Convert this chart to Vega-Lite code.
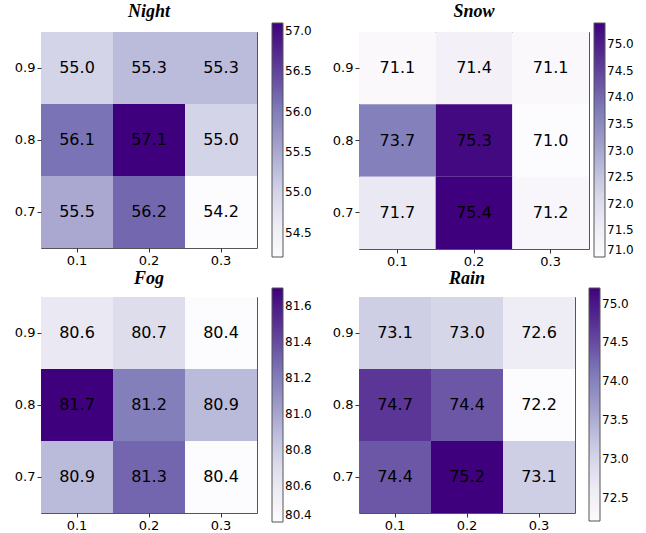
{
  "$schema": "https://vega.github.io/schema/vega-lite/v6.json",
  "padding": {"left": 13, "top": 2, "right": 2, "bottom": 2},
  "background": "white",
  "config": {
    "view": {"stroke": "#555", "strokeWidth": 1},
    "axis": {"domain": false, "grid": false, "labelFont": "DejaVu Sans", "labelFontSize": 13, "labelColor": "#000", "tickColor": "#333", "tickSize": 4, "labelPadding": 2, "title": null},
    "title": {"font": "Liberation Serif", "fontSize": 18, "fontWeight": "bold", "fontStyle": "italic", "offset": 2, "frame": "group", "color": "#000"},
    "legend": {"labelFont": "DejaVu Sans", "labelFontSize": 12, "labelColor": "#000", "gradientStrokeColor": "#555", "gradientStrokeWidth": 1, "labelOffset": 6}
  },
  "datasets": {
    "night": [
      {"x": "0.1", "y": "0.9", "v": 55.0}, {"x": "0.2", "y": "0.9", "v": 55.3}, {"x": "0.3", "y": "0.9", "v": 55.3},
      {"x": "0.1", "y": "0.8", "v": 56.1}, {"x": "0.2", "y": "0.8", "v": 57.1}, {"x": "0.3", "y": "0.8", "v": 55.0},
      {"x": "0.1", "y": "0.7", "v": 55.5}, {"x": "0.2", "y": "0.7", "v": 56.2}, {"x": "0.3", "y": "0.7", "v": 54.2}
    ],
    "snow": [
      {"x": "0.1", "y": "0.9", "v": 71.1}, {"x": "0.2", "y": "0.9", "v": 71.4}, {"x": "0.3", "y": "0.9", "v": 71.1},
      {"x": "0.1", "y": "0.8", "v": 73.7}, {"x": "0.2", "y": "0.8", "v": 75.3}, {"x": "0.3", "y": "0.8", "v": 71.0},
      {"x": "0.1", "y": "0.7", "v": 71.7}, {"x": "0.2", "y": "0.7", "v": 75.4}, {"x": "0.3", "y": "0.7", "v": 71.2}
    ],
    "fog": [
      {"x": "0.1", "y": "0.9", "v": 80.6}, {"x": "0.2", "y": "0.9", "v": 80.7}, {"x": "0.3", "y": "0.9", "v": 80.4},
      {"x": "0.1", "y": "0.8", "v": 81.7}, {"x": "0.2", "y": "0.8", "v": 81.2}, {"x": "0.3", "y": "0.8", "v": 80.9},
      {"x": "0.1", "y": "0.7", "v": 80.9}, {"x": "0.2", "y": "0.7", "v": 81.3}, {"x": "0.3", "y": "0.7", "v": 80.4}
    ],
    "rain": [
      {"x": "0.1", "y": "0.9", "v": 73.1}, {"x": "0.2", "y": "0.9", "v": 73.0}, {"x": "0.3", "y": "0.9", "v": 72.6},
      {"x": "0.1", "y": "0.8", "v": 74.7}, {"x": "0.2", "y": "0.8", "v": 74.4}, {"x": "0.3", "y": "0.8", "v": 72.2},
      {"x": "0.1", "y": "0.7", "v": 74.4}, {"x": "0.2", "y": "0.7", "v": 75.2}, {"x": "0.3", "y": "0.7", "v": 73.1}
    ]
  },
  "resolve": {"scale": {"color": "independent"}, "legend": {"color": "independent"}},
  "spacing": 0,
  "vconcat": [
    {
      "spacing": 18,
      "resolve": {"scale": {"color": "independent"}, "legend": {"color": "independent"}},
      "hconcat": [
        {
          "title": "Night",
          "width": 216, "height": 216,
          "data": {"name": "night"},
          "encoding": {
            "x": {"field": "x", "type": "ordinal", "sort": ["0.1", "0.2", "0.3"], "scale": {"paddingInner": 0, "paddingOuter": 0}, "axis": {"labelAngle": 0}},
            "y": {"field": "y", "type": "ordinal", "sort": ["0.9", "0.8", "0.7"], "scale": {"paddingInner": 0, "paddingOuter": 0}}
          },
          "layer": [
            {"mark": "rect", "encoding": {"color": {"field": "v", "type": "quantitative", "scale": {"domain": [54.2, 54.5625, 54.925, 55.2875, 55.65, 56.0125, 56.375, 56.7375, 57.1], "range": ["#fcfbfd", "#efedf5", "#dadaeb", "#bcbddc", "#9e9ac8", "#807dba", "#6a51a3", "#54278f", "#3f007d"], "nice": false, "zero": false}, "legend": {"title": null, "direction": "vertical", "orient": "none", "legendX": 231, "legendY": -9, "gradientLength": 234, "gradientThickness": 11, "values": [54.5, 55.0, 55.5, 56.0, 56.5, 57.0], "format": ".1f"}}}},
            {"mark": {"type": "text", "fontSize": 16, "font": "DejaVu Sans", "color": "#000"}, "encoding": {"text": {"field": "v", "type": "quantitative", "format": ".1f"}}}
          ]
        },
        {
          "title": "Snow",
          "width": 230, "height": 217,
          "data": {"name": "snow"},
          "encoding": {
            "x": {"field": "x", "type": "ordinal", "sort": ["0.1", "0.2", "0.3"], "scale": {"paddingInner": 0, "paddingOuter": 0}, "axis": {"labelAngle": 0}},
            "y": {"field": "y", "type": "ordinal", "sort": ["0.9", "0.8", "0.7"], "scale": {"paddingInner": 0, "paddingOuter": 0}}
          },
          "layer": [
            {"mark": "rect", "encoding": {"color": {"field": "v", "type": "quantitative", "scale": {"domain": [71.0, 71.55, 72.1, 72.65, 73.2, 73.75, 74.3, 74.85, 75.4], "range": ["#fcfbfd", "#efedf5", "#dadaeb", "#bcbddc", "#9e9ac8", "#807dba", "#6a51a3", "#54278f", "#3f007d"], "nice": false, "zero": false}, "legend": {"title": null, "direction": "vertical", "orient": "none", "legendX": 235, "legendY": -9, "gradientLength": 234, "gradientThickness": 11, "values": [71.0, 71.5, 72.0, 72.5, 73.0, 73.5, 74.0, 74.5, 75.0], "format": ".1f"}}}},
            {"mark": {"type": "text", "fontSize": 16, "font": "DejaVu Sans", "color": "#000"}, "encoding": {"text": {"field": "v", "type": "quantitative", "format": ".1f"}}}
          ]
        }
      ]
    },
    {
      "spacing": 18,
      "resolve": {"scale": {"color": "independent"}, "legend": {"color": "independent"}},
      "hconcat": [
        {
          "title": {"text": "Fog", "offset": 0},
          "width": 216, "height": 216,
          "data": {"name": "fog"},
          "encoding": {
            "x": {"field": "x", "type": "ordinal", "sort": ["0.1", "0.2", "0.3"], "scale": {"paddingInner": 0, "paddingOuter": 0}, "axis": {"labelAngle": 0}},
            "y": {"field": "y", "type": "ordinal", "sort": ["0.9", "0.8", "0.7"], "scale": {"paddingInner": 0, "paddingOuter": 0}}
          },
          "layer": [
            {"mark": "rect", "encoding": {"color": {"field": "v", "type": "quantitative", "scale": {"domain": [80.4, 80.5625, 80.725, 80.8875, 81.05, 81.2125, 81.375, 81.5375, 81.7], "range": ["#fcfbfd", "#efedf5", "#dadaeb", "#bcbddc", "#9e9ac8", "#807dba", "#6a51a3", "#54278f", "#3f007d"], "nice": false, "zero": false}, "legend": {"title": null, "direction": "vertical", "orient": "none", "legendX": 231, "legendY": -9, "gradientLength": 234, "gradientThickness": 11, "values": [80.4, 80.6, 80.8, 81.0, 81.2, 81.4, 81.6], "format": ".1f"}}}},
            {"mark": {"type": "text", "fontSize": 16, "font": "DejaVu Sans", "color": "#000"}, "encoding": {"text": {"field": "v", "type": "quantitative", "format": ".1f"}}}
          ]
        },
        {
          "title": {"text": "Rain", "offset": 0},
          "width": 216, "height": 216,
          "data": {"name": "rain"},
          "encoding": {
            "x": {"field": "x", "type": "ordinal", "sort": ["0.1", "0.2", "0.3"], "scale": {"paddingInner": 0, "paddingOuter": 0}, "axis": {"labelAngle": 0}},
            "y": {"field": "y", "type": "ordinal", "sort": ["0.9", "0.8", "0.7"], "scale": {"paddingInner": 0, "paddingOuter": 0}}
          },
          "layer": [
            {"mark": "rect", "encoding": {"color": {"field": "v", "type": "quantitative", "scale": {"domain": [72.2, 72.575, 72.95, 73.325, 73.7, 74.075, 74.45, 74.825, 75.2], "range": ["#fcfbfd", "#efedf5", "#dadaeb", "#bcbddc", "#9e9ac8", "#807dba", "#6a51a3", "#54278f", "#3f007d"], "nice": false, "zero": false}, "legend": {"title": null, "direction": "vertical", "orient": "none", "legendX": 230, "legendY": -9, "gradientLength": 233, "gradientThickness": 11, "values": [72.5, 73.0, 73.5, 74.0, 74.5, 75.0], "format": ".1f"}}}},
            {"mark": {"type": "text", "fontSize": 16, "font": "DejaVu Sans", "color": "#000"}, "encoding": {"text": {"field": "v", "type": "quantitative", "format": ".1f"}}}
          ]
        }
      ]
    }
  ]
}
